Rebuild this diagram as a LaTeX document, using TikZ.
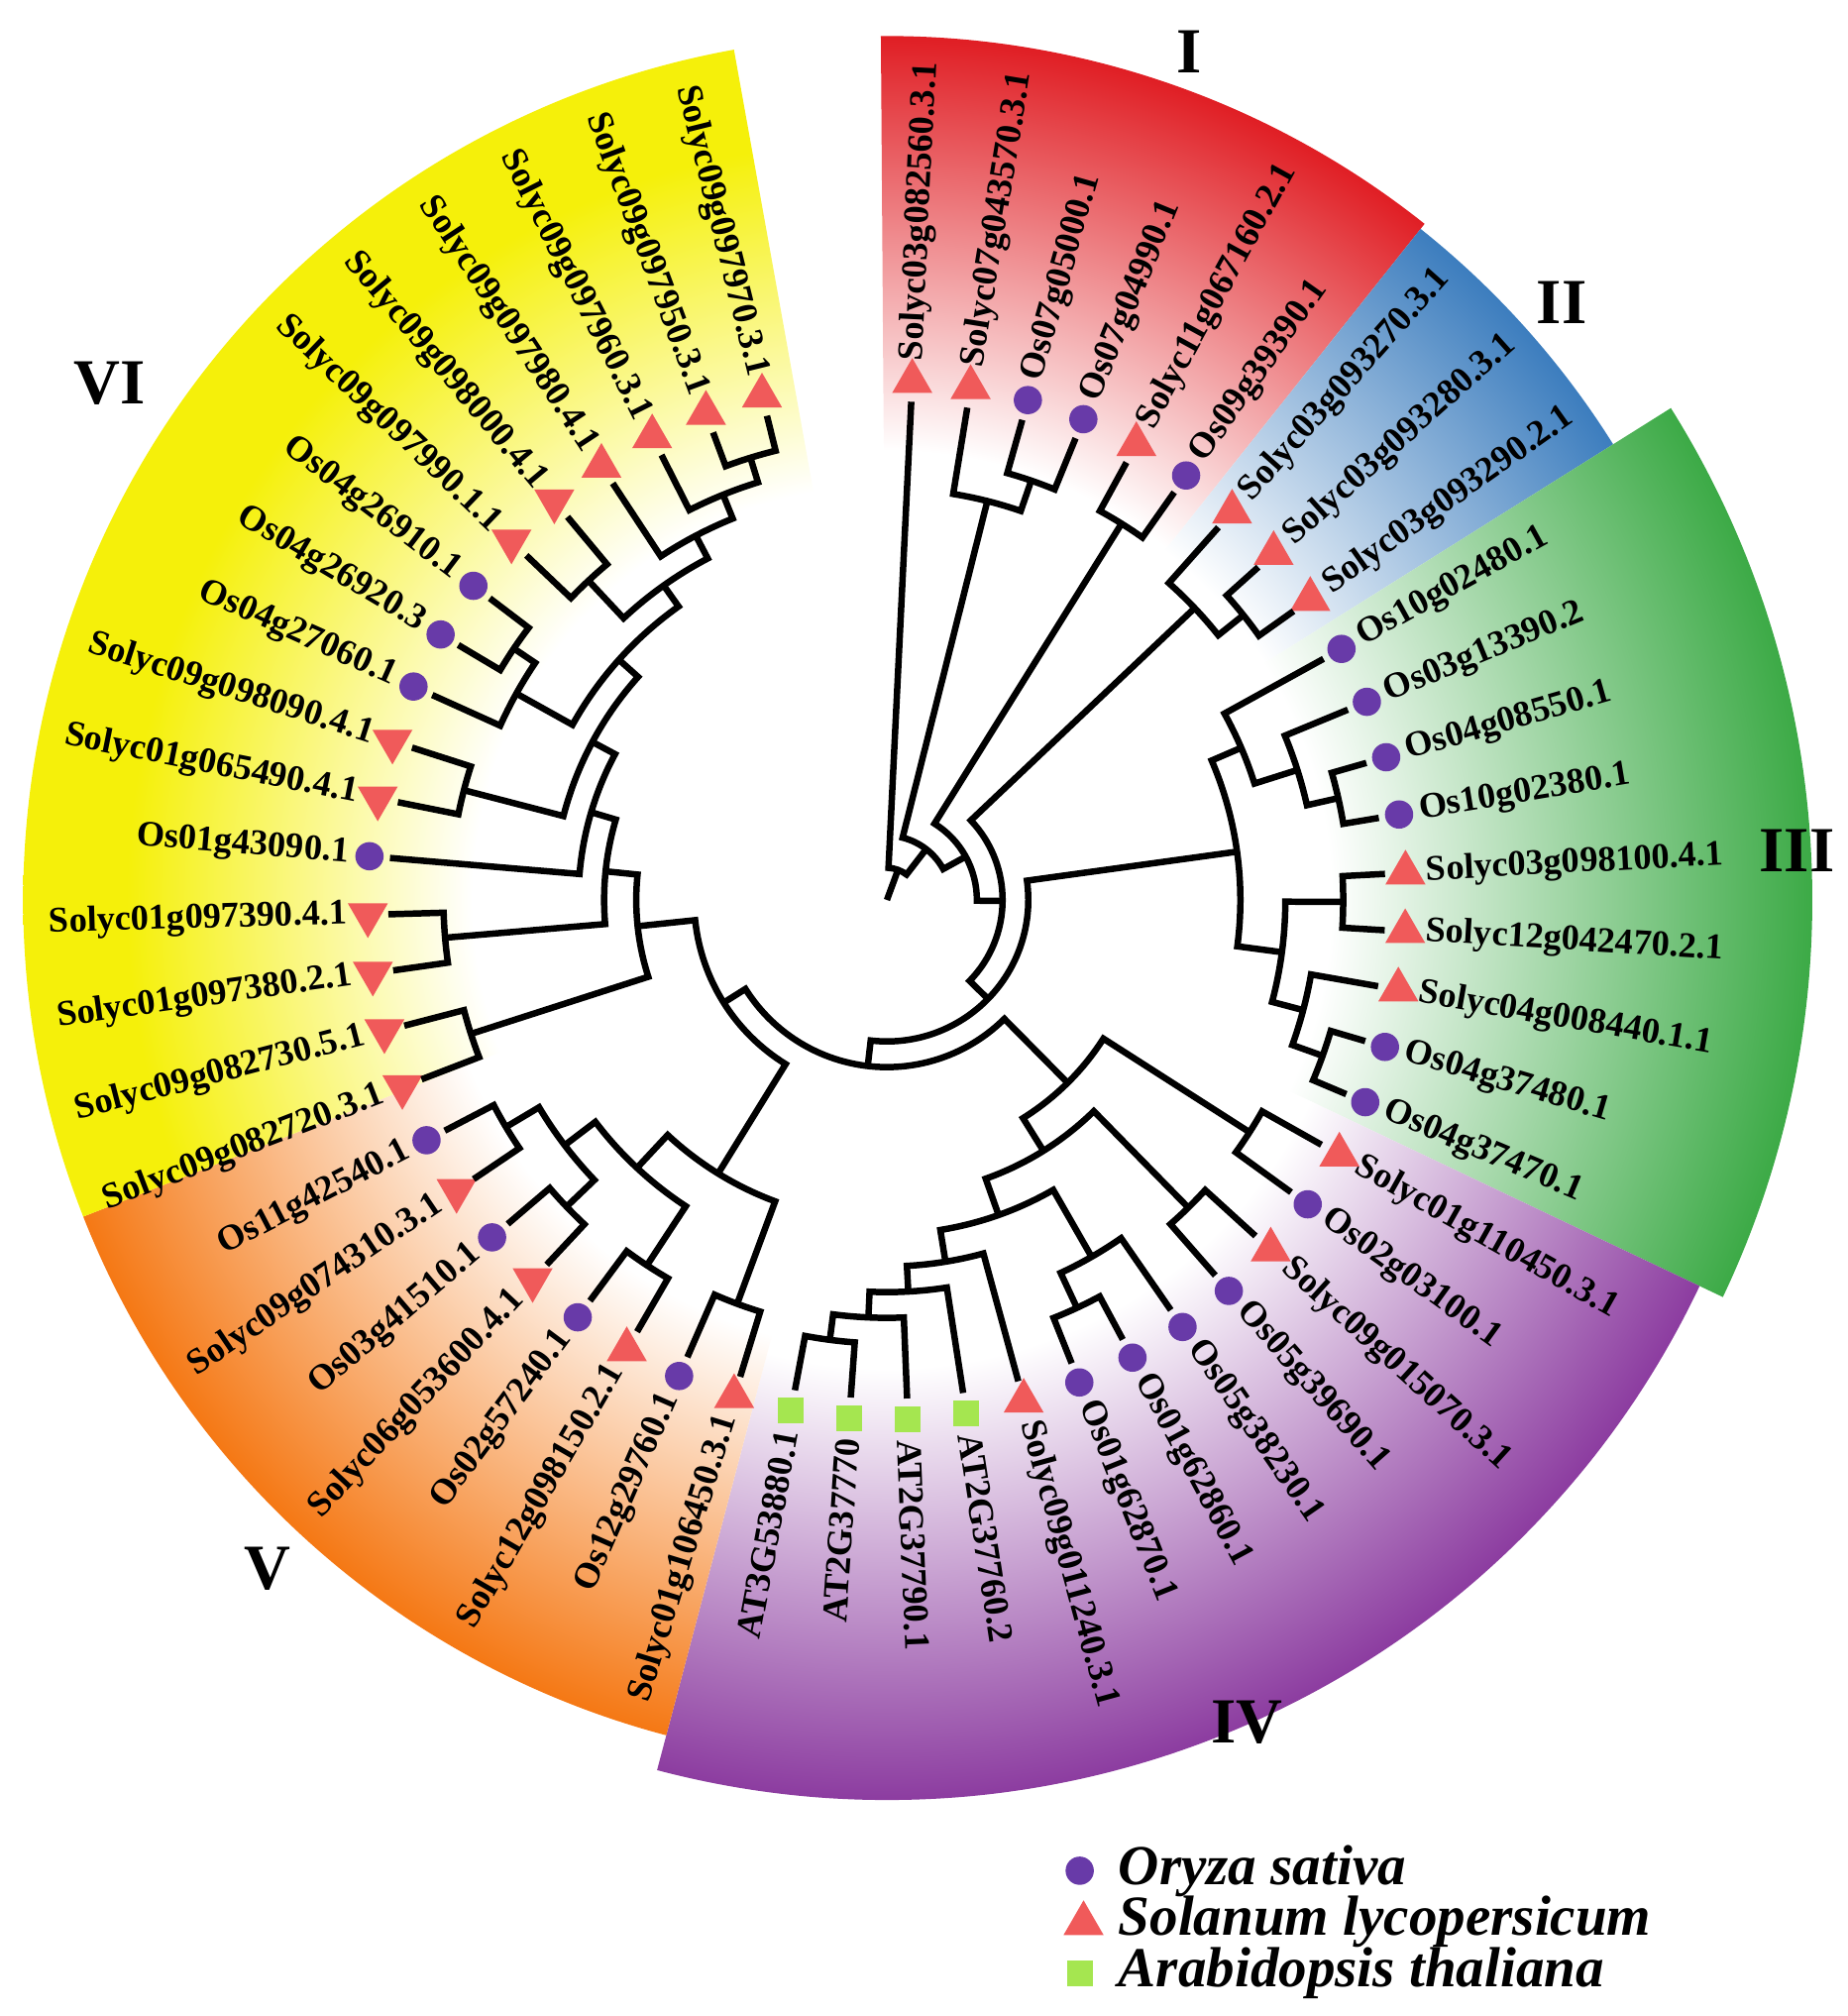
\documentclass[tikz,border=0pt]{standalone}
\usepackage{fontspec}
\setmainfont{Liberation Serif}
\usetikzlibrary{shapes.geometric}
\definecolor{cI}{RGB}{224,30,36}
\definecolor{cII}{RGB}{60,125,190}
\definecolor{cIII}{RGB}{60,170,70}
\definecolor{cIV}{RGB}{140,60,160}
\definecolor{cV}{RGB}{245,120,20}
\definecolor{cVI}{RGB}{245,240,10}
\definecolor{os}{RGB}{104,58,168}
\definecolor{sl}{RGB}{240,90,90}
\definecolor{at}{RGB}{165,230,80}
\pgfdeclareradialshading{shI}{\pgfpointorigin}{color(0bp)=(white); color(13bp)=(white); color(25bp)=(cI); color(50bp)=(cI)}
\pgfdeclareradialshading{shII}{\pgfpointorigin}{color(0bp)=(white); color(13bp)=(white); color(25bp)=(cII); color(50bp)=(cII)}
\pgfdeclareradialshading{shIII}{\pgfpointorigin}{color(0bp)=(white); color(12bp)=(white); color(25bp)=(cIII); color(50bp)=(cIII)}
\pgfdeclareradialshading{shIV}{\pgfpointorigin}{color(0bp)=(white); color(13bp)=(white); color(25bp)=(cIV); color(50bp)=(cIV)}
\pgfdeclareradialshading{shV}{\pgfpointorigin}{color(0bp)=(white); color(13bp)=(white); color(25bp)=(cV); color(50bp)=(cV)}
\pgfdeclareradialshading{shVI}{\pgfpointorigin}{color(0bp)=(white); color(12bp)=(white); color(22bp)=(cVI); color(50bp)=(cVI)}
\newcommand\mySector[4]{%
  \begin{scope}
    \clip (0,0) -- (#2:#4pt) arc[start angle=#2,end angle=#3,radius=#4pt] -- cycle;
    \shade[shading=#1] (0,0) circle (#4pt);
  \end{scope}}
\newcommand\Lf[3]{%
  \pgfmathsetmacro\myLa{87.2-6.477*#1}%
  \expandafter\xdef\csname A#1\endcsname{\myLa}%
  \coordinate (n#1) at (\myLa:388pt);
  \pgfmathparse{cos(\myLa)>=0?1:0}%
  \ifnum\pgfmathresult=1
    \node[lab,rotate=\myLa,anchor=west] (t#1) at (\myLa:420pt) {#3};
  \else
    \node[lab,rotate=\myLa+180,anchor=east] (t#1) at (\myLa:420pt) {#3};
  \fi
  \pgfmathparse{cos(\myLa)<-0.6?1:0}%
  \ifnum\pgfmathresult=1
    \node[mk#2,rotate=180] (m#1) at (\myLa:404pt) {};
  \else
    \node[mk#2] (m#1) at (\myLa:404pt) {};
  \fi}
\newcommand\Nd[4]{%
  \edef\myCa{\csname A#2\endcsname}\edef\myCb{\csname A#3\endcsname}%
  \pgfmathsetmacro\myNa{(\myCa+\myCb)/2}%
  \expandafter\xdef\csname A#1\endcsname{\myNa}%
  \coordinate (n#1) at (\myNa:#4pt);
  \draw[br] (n#2) -- (\myCa:#4pt) arc[start angle=\myCa,end angle=\myCb,radius=#4pt] -- (n#3);}
\begin{document}
\begin{tikzpicture}[
  br/.style={line width=5pt,line join=miter},
  lab/.style={font=\fontsize{28}{30}\selectfont\bfseries,inner sep=0pt},
  mko/.style={circle,fill=os,inner sep=0pt,minimum size=22pt},
  mkt/.style={regular polygon,regular polygon sides=3,fill=sl,inner sep=0pt,minimum size=36pt},
  mks/.style={rectangle,fill=at,inner sep=0pt,minimum size=20pt},
  rom/.style={font=\fontsize{50}{52}\selectfont\bfseries},
  leg/.style={font=\fontsize{44}{46}\selectfont\bfseries\itshape,anchor=west,inner sep=0pt}]
\useasboundingbox (-690pt,-868pt) rectangle (747pt,700pt);
\mySector{shI}{90.4}{51.5}{672}
\mySector{shII}{51.5}{32.1}{667}
\mySector{shIII}{32.1}{-25.4}{720}
\mySector{shIV}{-25.4}{-104.8}{700}
\mySector{shV}{-104.8}{-158.5}{672}
\mySector{shVI}{-158.5}{-259.8}{672}
\Lf{0}{t}{Solyc03g082560.3.1}
\Lf{1}{t}{Solyc07g043570.3.1}
\Lf{2}{o}{Os07g05000.1}
\Lf{3}{o}{Os07g04990.1}
\Lf{4}{t}{Solyc11g067160.2.1}
\Lf{5}{o}{Os09g39390.1}
\Lf{6}{t}{Solyc03g093270.3.1}
\Lf{7}{t}{Solyc03g093280.3.1}
\Lf{8}{t}{Solyc03g093290.2.1}
\Lf{9}{o}{Os10g02480.1}
\Lf{10}{o}{Os03g13390.2}
\Lf{11}{o}{Os04g08550.1}
\Lf{12}{o}{Os10g02380.1}
\Lf{13}{t}{Solyc03g098100.4.1}
\Lf{14}{t}{Solyc12g042470.2.1}
\Lf{15}{t}{Solyc04g008440.1.1}
\Lf{16}{o}{Os04g37480.1}
\Lf{17}{o}{Os04g37470.1}
\Lf{18}{t}{Solyc01g110450.3.1}
\Lf{19}{o}{Os02g03100.1}
\Lf{20}{t}{Solyc09g015070.3.1}
\Lf{21}{o}{Os05g39690.1}
\Lf{22}{o}{Os05g38230.1}
\Lf{23}{o}{Os01g62860.1}
\Lf{24}{o}{Os01g62870.1}
\Lf{25}{t}{Solyc09g011240.3.1}
\Lf{26}{s}{AT2G37760.2}
\Lf{27}{s}{AT2G37790.1}
\Lf{28}{s}{AT2G37770}
\Lf{29}{s}{AT3G53880.1}
\Lf{30}{t}{Solyc01g106450.3.1}
\Lf{31}{o}{Os12g29760.1}
\Lf{32}{t}{Solyc12g098150.2.1}
\Lf{33}{o}{Os02g57240.1}
\Lf{34}{t}{Solyc06g053600.4.1}
\Lf{35}{o}{Os03g41510.1}
\Lf{36}{t}{Solyc09g074310.3.1}
\Lf{37}{o}{Os11g42540.1}
\Lf{38}{t}{Solyc09g082720.3.1}
\Lf{39}{t}{Solyc09g082730.5.1}
\Lf{40}{t}{Solyc01g097380.2.1}
\Lf{41}{t}{Solyc01g097390.4.1}
\Lf{42}{o}{Os01g43090.1}
\Lf{43}{t}{Solyc01g065490.4.1}
\Lf{44}{t}{Solyc09g098090.4.1}
\Lf{45}{o}{Os04g27060.1}
\Lf{46}{o}{Os04g26920.3}
\Lf{47}{o}{Os04g26910.1}
\Lf{48}{t}{Solyc09g097990.1.1}
\Lf{49}{t}{Solyc09g098000.4.1}
\Lf{50}{t}{Solyc09g097980.4.1}
\Lf{51}{t}{Solyc09g097960.3.1}
\Lf{52}{t}{Solyc09g097950.3.1}
\Lf{53}{t}{Solyc09g097970.3.1}
% clade I
\Nd{c23}{2}{3}{345}
\Nd{c123}{1}{c23}{320}
\Nd{c45}{4}{5}{345}
% clade II
\Nd{c78}{7}{8}{355}
\Nd{cII}{6}{c78}{330}
% clade III
\Nd{c1112}{11}{12}{360}
\Nd{c1012}{10}{c1112}{335}
\Nd{c912}{9}{c1012}{300}
\Nd{c1314}{13}{14}{355}
\Nd{c1617}{16}{17}{360}
\Nd{c1517}{15}{c1617}{335}
\Nd{c1317}{c1314}{c1517}{310}
\Nd{cIII}{c912}{c1317}{275}
% clade IV
\Nd{c2829}{28}{29}{345}
\Nd{c2729}{27}{c2829}{325}
\Nd{c2629}{26}{c2729}{305}
\Nd{c2529}{25}{c2629}{285}
\Nd{c2324}{23}{24}{350}
\Nd{c2224}{22}{c2324}{320}
\Nd{c2229}{c2224}{c2529}{260}
\Nd{c2021}{20}{21}{335}
\Nd{c2029}{c2021}{c2229}{230}
\Nd{c1819}{18}{19}{335}
\Nd{cIV}{c1819}{c2029}{200}
% clade V
\Nd{c3637}{36}{37}{345}
\Nd{c3435}{34}{35}{345}
\Nd{c3437}{c3435}{c3637}{315}
\Nd{c3233}{32}{33}{340}
\Nd{c3237}{c3233}{c3437}{285}
\Nd{c3031}{30}{31}{335}
\Nd{cV}{c3031}{c3237}{250}
% clade VI
\Nd{c5253}{52}{53}{360}
\Nd{c5153}{51}{c5253}{340}
\Nd{c5053}{50}{c5153}{320}
\Nd{c4849}{48}{49}{340}
\Nd{c4853}{c4849}{c5053}{300}
\Nd{c4647}{46}{47}{350}
\Nd{c4547}{45}{c4647}{330}
\Nd{c4553}{c4547}{c4853}{280}
\Nd{c4344}{43}{44}{340}
\Nd{c4353}{c4344}{c4553}{260}
\Nd{c4253}{42}{c4353}{240}
\Nd{c4041}{40}{41}{345}
\Nd{c4053}{c4041}{c4253}{220}
\Nd{c3839}{38}{39}{340}
\Nd{cVI}{c3839}{c4053}{195}
% backbone
\Nd{cVVI}{cV}{cVI}{150}
\Nd{cIVVI}{cIV}{cVVI}{130}
\Nd{cIIIVI}{cIII}{cIVVI}{110}
\Nd{a4}{cII}{cIIIVI}{90}
\Nd{a3}{c45}{a4}{70}
\Nd{a2}{c123}{a3}{50}
\Nd{a1}{0}{a2}{25}
\coordinate (root) at (0,0);
\draw[br] (root) -- (na1);
% clade numerals
\node[rom] (rI) at (235pt,660pt) {I};
\node[rom] (rII) at (525pt,465pt) {II};
\node[rom] (rIII) at (708pt,38pt) {III};
\node[rom] (rIV) at (280pt,-640pt) {IV};
\node[rom] (rV) at (-482pt,-520pt) {V};
\node[rom] (rVI) at (-605pt,402pt) {VI};
% legend
\node[mko] (lo) at (150pt,-755pt) {};
\node[mkt] (lt) at (153pt,-796pt) {};
\node[mks] (ls) at (150pt,-835pt) {};
\node[leg] (lot) at (180pt,-755pt) {Oryza sativa};
\node[leg] (ltt) at (180pt,-795pt) {Solanum lycopersicum};
\node[leg] (lst) at (180pt,-835pt) {Arabidopsis thaliana};
\end{tikzpicture}
\end{document}
